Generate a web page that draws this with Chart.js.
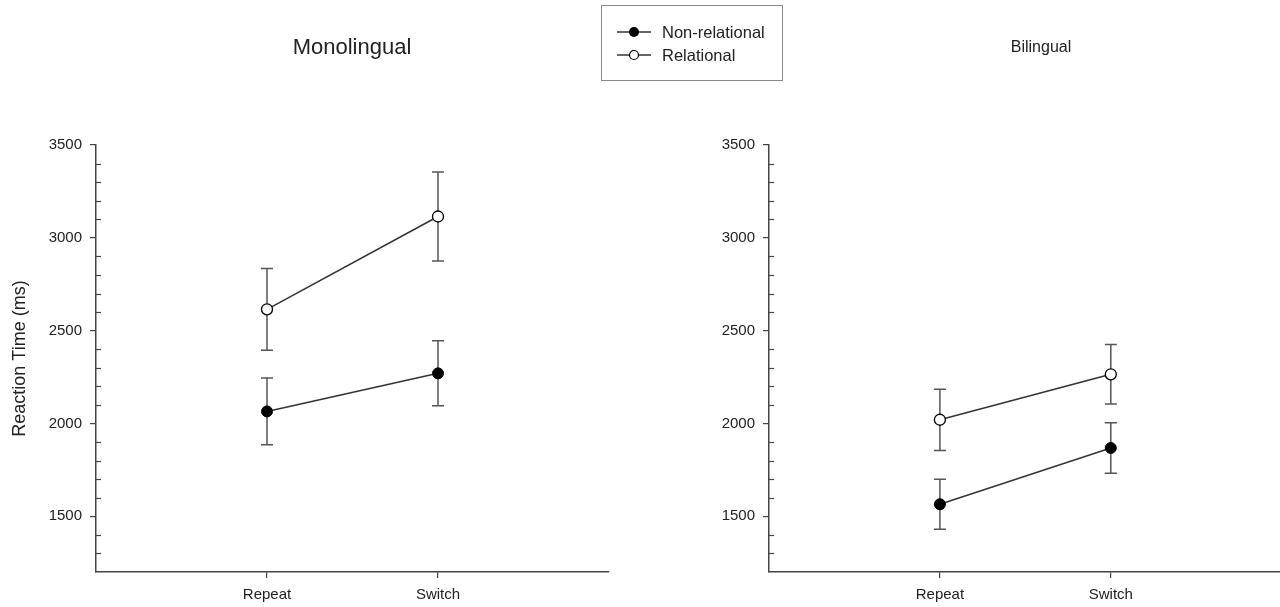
<!DOCTYPE html>
<html><head><meta charset="utf-8">
<script src="https://cdn.jsdelivr.net/npm/chart.js@4.4.0/dist/chart.umd.min.js"></script>
<style>
body{margin:0;width:1280px;height:607px;background:#fff;overflow:hidden;position:relative;font-family:"Liberation Sans",Arial,sans-serif;color:#222}
#w1{position:absolute;left:0;top:0;width:640px;height:607px}
#w2{position:absolute;left:673px;top:0;width:607px;height:607px}
.title{position:absolute;transform:translate(-50%,-50%);white-space:nowrap;line-height:1}
#legend{position:absolute;left:601px;top:5px;width:182px;height:76px;border:1px solid #8a8a8a;box-sizing:border-box}
.lg{position:absolute;left:15px;height:20px;display:flex;align-items:center;font-size:16.5px;white-space:nowrap}
.lg svg{margin-right:10px}
</style></head>
<body>
<div id="w1"><canvas id="c1" width="640" height="607"></canvas></div>
<div id="w2"><canvas id="c2" width="607" height="607"></canvas></div>
<div class="title" id="t1" style="left:352px;top:47px;font-size:22px">Monolingual</div>
<div class="title" id="t2" style="left:1041px;top:47px;font-size:16px">Bilingual</div>
<div id="legend">
  <div class="lg" style="top:16px"><svg width="35" height="12"><line x1="0" y1="6" x2="34" y2="6" stroke="#333" stroke-width="1.5"/><circle cx="17" cy="6" r="5" fill="#000"/></svg><span id="lg1"></span></div>
  <div class="lg" style="top:39px"><svg width="35" height="12"><line x1="0" y1="6" x2="34" y2="6" stroke="#333" stroke-width="1.5"/><circle cx="17" cy="6" r="4.5" fill="#fff" stroke="#000" stroke-width="1.2"/></svg><span id="lg2"></span></div>
</div>
<script>
// ---- data ----
const categories = ['Repeat', 'Switch'];
const seriesNames = ['Non-relational', 'Relational'];
const panelTitles = ['Monolingual', 'Bilingual'];
const yAxisTitle = 'Reaction Time (ms)';

const monoNonRel = [2065, 2270];
const monoNonRelErr = [180, 175];
const monoRel = [2615, 3115];
const monoRelErr = [220, 240];

const biNonRel = [1565, 1868];
const biNonRelErr = [135, 136];
const biRel = [2020, 2265];
const biRelErr = [165, 160];

const yMin = 1200, yMax = 3500, yMajor = 500, yMinor = 100;

document.getElementById('lg1').textContent = seriesNames[0];
document.getElementById('lg2').textContent = seriesNames[1];
document.getElementById('t1').textContent = panelTitles[0];
document.getElementById('t2').textContent = panelTitles[1];

const FONT = '"Liberation Sans", Arial, sans-serif';
const AX = '#444';

const errorBars = {
  id: 'errorBars',
  beforeDatasetsDraw(chart) {
    const ctx = chart.ctx, xs = chart.scales.x, ys = chart.scales.y;
    ctx.save();
    ctx.strokeStyle = '#555';
    ctx.lineWidth = 1.5;
    chart.data.datasets.forEach(ds => {
      ds.data.forEach((p, i) => {
        const e = ds.errors[i];
        const x = xs.getPixelForValue(p.x);
        const y1 = ys.getPixelForValue(p.y + e), y2 = ys.getPixelForValue(p.y - e);
        ctx.beginPath();
        ctx.moveTo(x, y1); ctx.lineTo(x, y2);
        ctx.moveTo(x - 6, y1); ctx.lineTo(x + 6, y1);
        ctx.moveTo(x - 6, y2); ctx.lineTo(x + 6, y2);
        ctx.stroke();
      });
    });
    ctx.restore();
  }
};

const minorTicks = {
  id: 'minorTicks',
  afterDraw(chart) {
    const ctx = chart.ctx, ys = chart.scales.y, left = chart.chartArea.left;
    ctx.save();
    ctx.strokeStyle = AX; ctx.lineWidth = 1.2;
    ys.ticks.forEach(t => {
      if (t.value % yMajor !== 0 && t.value !== yMin) {
        const y = Math.round(ys.getPixelForValue(t.value)) + 0.5;
        ctx.beginPath(); ctx.moveTo(left, y); ctx.lineTo(left + 5, y); ctx.stroke();
      }
    });
    ctx.restore();
  }
};

function makeChart(id, nonRel, nonRelErr, rel, relErr, xMax, padRight, showTitle) {
  const pts = arr => arr.map((v, i) => ({x: i + 1, y: v}));
  return new Chart(document.getElementById(id), {
    type: 'line',
    data: {
      datasets: [
        {label: seriesNames[0], data: pts(nonRel), errors: nonRelErr,
         borderColor: '#333', borderWidth: 1.5, pointRadius: 5.5, pointBackgroundColor: '#000',
         pointBorderColor: '#000', pointBorderWidth: 1, tension: 0},
        {label: seriesNames[1], data: pts(rel), errors: relErr,
         borderColor: '#333', borderWidth: 1.5, pointRadius: 5.5, pointBackgroundColor: '#fff',
         pointBorderColor: '#000', pointBorderWidth: 1.3, tension: 0}
      ]
    },
    options: {
      responsive: false, animation: false, events: [],
      layout: {autoPadding: false, padding: {top: 145, right: padRight, left: 0, bottom: 0}},
      plugins: {legend: {display: false}, tooltip: {enabled: false}, title: {display: false}},
      scales: {
        x: {
          type: 'linear', min: 0, max: xMax,
          afterFit(s) { s.height = 35; },
          afterBuildTicks(s) { s.ticks = categories.map((c, i) => ({value: i + 1})); },
          ticks: {callback: v => categories[v - 1], font: {family: FONT, size: 15}, color: '#222', padding: 8, maxRotation: 0, autoSkip: false},
          grid: {display: true, drawOnChartArea: false, drawTicks: true, tickLength: 6, color: AX, lineWidth: 1.2},
          border: {display: true, color: AX, width: 1.5}
        },
        y: {
          type: 'linear', min: yMin, max: yMax,
          afterFit(s) { s.width = 96; },
          ticks: {stepSize: yMinor, autoSkip: false, callback: v => (v % yMajor === 0 ? String(v) : ''),
                  font: {family: FONT, size: 15}, color: '#222', padding: 8},
          grid: {display: true, drawOnChartArea: false, drawTicks: true, tickLength: 6, lineWidth: 1.2,
                 color: c => (c.tick && c.tick.value % yMajor === 0) ? AX : 'rgba(0,0,0,0)'},
          border: {display: true, color: AX, width: 1.5},
          title: {display: showTitle, text: yAxisTitle, font: {family: FONT, size: 18}, color: '#222', padding: {top: 9, bottom: 0}}
        }
      }
    },
    plugins: [errorBars, minorTicks]
  });
}

makeChart('c1', monoNonRel, monoNonRelErr, monoRel, monoRelErr, 3, 31, true);
makeChart('c2', biNonRel, biNonRelErr, biRel, biRelErr, 2.99, 0, false);
</script>
</body></html>
